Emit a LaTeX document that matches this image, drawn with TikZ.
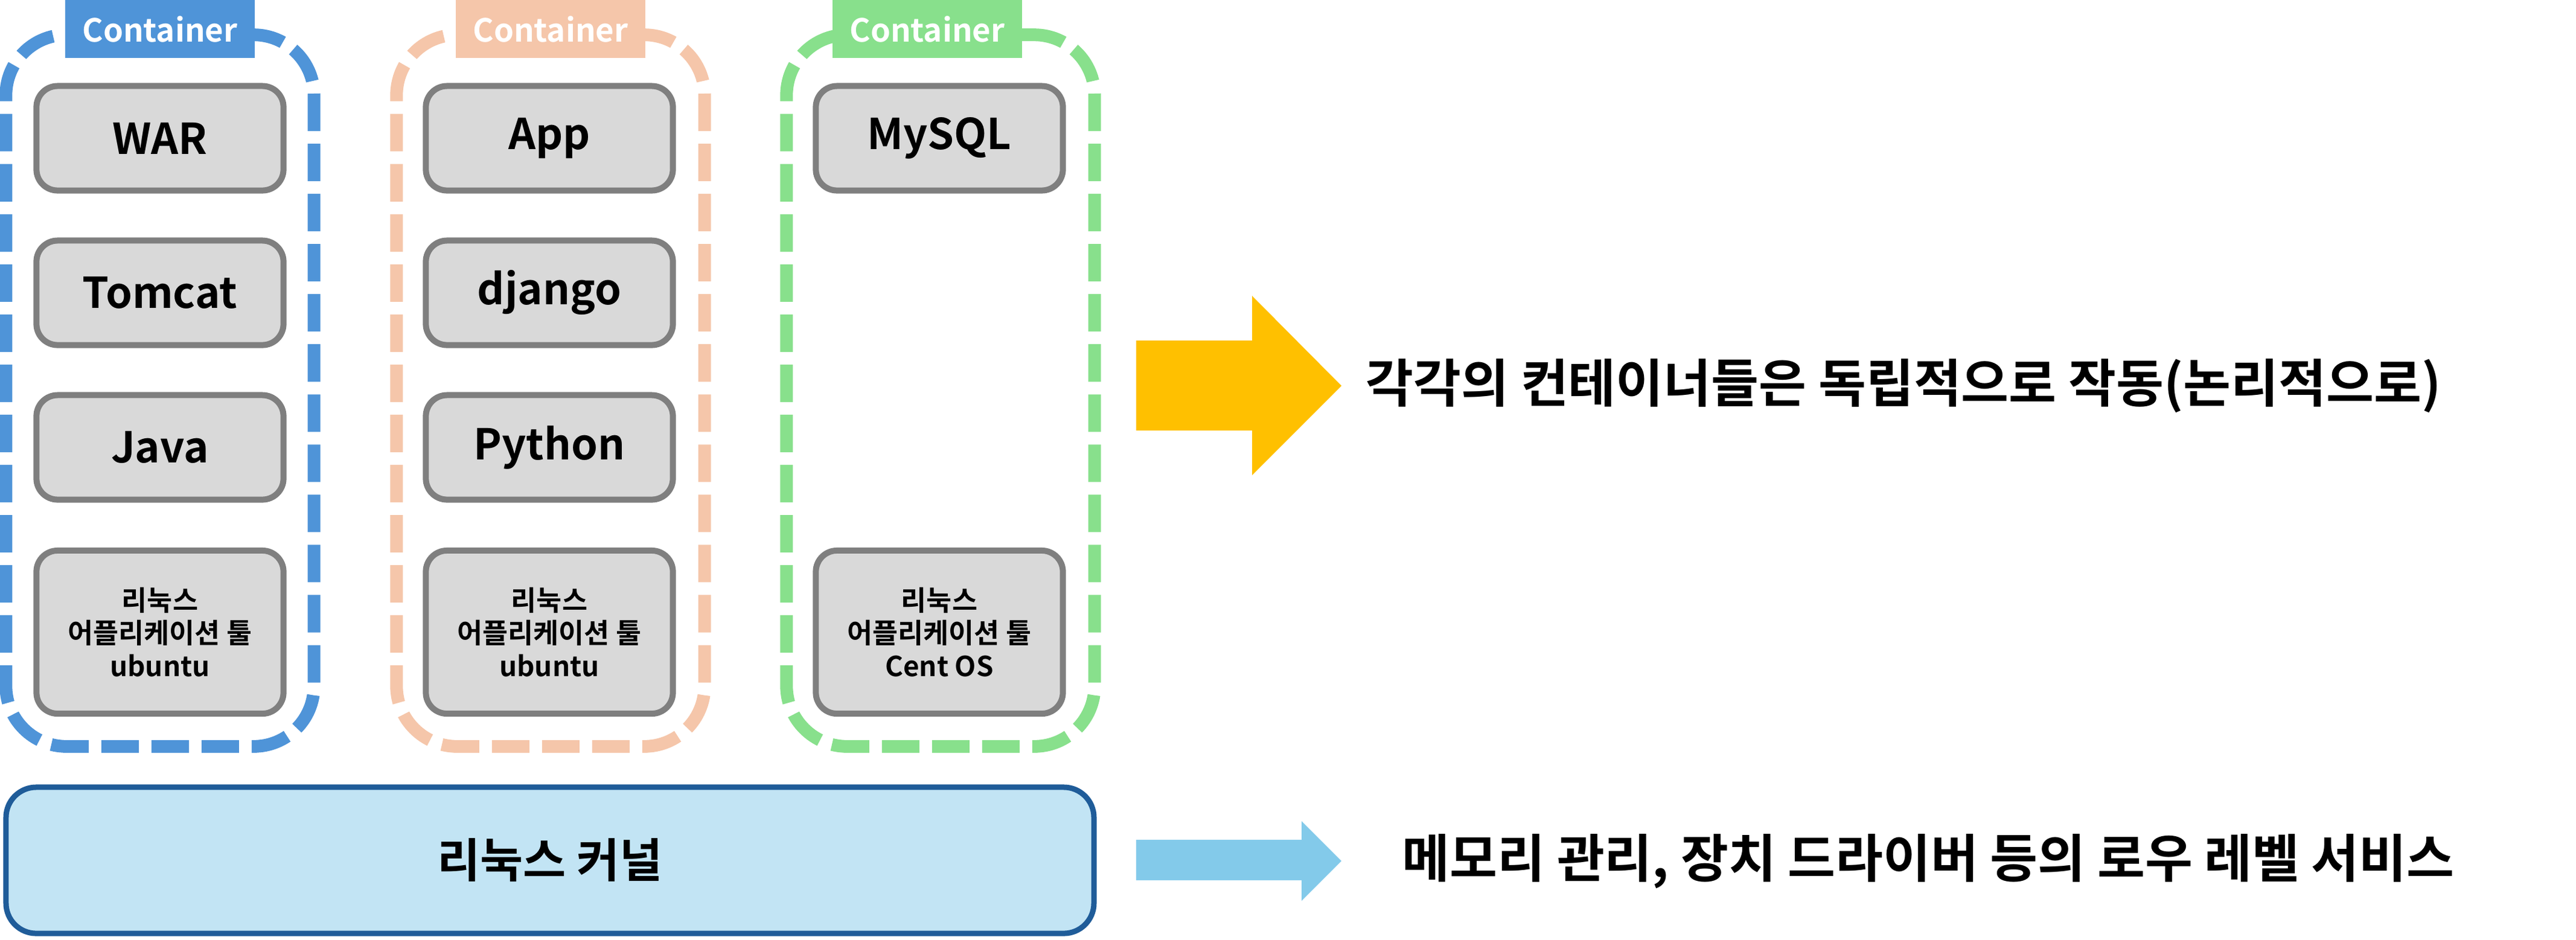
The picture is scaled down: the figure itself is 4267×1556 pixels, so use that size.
\documentclass[tikz,border=0pt]{standalone}
\usepackage{fontspec}
\setmainfont{Noto Sans CJK KR}[BoldFont={Noto Sans CJK KR Bold}]
\usepackage{tikz}
\definecolor{cont_blue}{HTML}{4F94D8}
\definecolor{cont_peach}{HTML}{F5C6AA}
\definecolor{cont_green}{HTML}{88E08C}
\definecolor{layer_gray}{HTML}{7F7F7F}
\definecolor{layer_fill}{HTML}{D9D9D9}
\definecolor{kernel_fill}{HTML}{C2E4F4}
\definecolor{kernel_line}{HTML}{1F5C99}
\definecolor{arrow_yellow}{HTML}{FFC000}
\definecolor{arrow_sky}{HTML}{83CAEA}

\begin{document}
\begin{tikzpicture}[x=0.01cm,y=-0.01cm,
    layer/.style={draw=layer_gray,fill=layer_fill,line width=0.1cm,rounded corners=0.35cm,
      minimum width=4.09cm,minimum height=1.73cm,font=\bfseries\fontsize{20}{24}\selectfont},
    oslayer/.style={layer,minimum height=2.7cm,align=center,font=\bfseries\fontsize{13}{15.6}\selectfont},
    container/.style={line width=0.21cm,dash pattern=on 0.62cm off 0.21cm,rounded corners=1cm,
      minimum width=5.1cm,minimum height=11.78cm},
    tag/.style={text=white,minimum width=3.14cm,minimum height=0.96cm,inner sep=0,
      font=\bfseries\fontsize{15}{17}\selectfont},
    note/.style={anchor=west,inner sep=0,font=\bfseries\fontsize{24.4}{28}\selectfont}]
    \useasboundingbox (0,0) rectangle (4267,1556);
    % containers
    \node[container,draw=cont_blue] (cwar) at (265,647) {};
    \node[container,draw=cont_peach] (capp) at (912,647) {};
    \node[container,draw=cont_green] (cdb) at (1558,647) {};
    \node[tag,fill=cont_blue] (tagwar) at (265,48) {Container};
    \node[tag,fill=cont_peach] (tagapp) at (912,48) {Container};
    \node[tag,fill=cont_green] (tagdb) at (1536,48) {Container};
    % java stack
    \node[layer] (war) at (265,229) {WAR};
    \node[layer] (tomcat) at (265,485) {Tomcat};
    \node[layer] (java) at (265,741) {Java};
    \node[oslayer] (oswar) at (265,1047) {리눅스\\어플리케이션 툴\\ubuntu};
    % python stack
    \node[layer] (app) at (910,229) {App};
    \node[layer] (django) at (910,485) {django};
    \node[layer] (python) at (910,741) {Python};
    \node[oslayer] (osapp) at (910,1047) {리눅스\\어플리케이션 툴\\ubuntu};
    % db stack
    \node[layer] (mysql) at (1556,229) {MySQL};
    \node[oslayer] (osdb) at (1556,1047) {리눅스\\어플리케이션 툴\\Cent OS};
    % kernel
    \node[draw=kernel_line,fill=kernel_fill,line width=0.09cm,rounded corners=0.5cm,
      minimum width=18.01cm,minimum height=2.42cm,font=\bfseries\fontsize{22}{26}\selectfont] (kernel) at (911,1425) {리눅스 커널};
    % notes
    \node[note] (txtcont) at (2262,639) {각각의 컨테이너들은 독립적으로 작동(논리적으로)};
    \node[note] (txtkernel) at (2322,1427) {메모리 관리, 장치 드라이버 등의 로우 레벨 서비스};
    \fill[arrow_yellow] (1882,564) -- (2074,564) -- (2074,490) -- (2222,639) -- (2074,787) -- (2074,713) -- (1882,713) -- cycle;
    \fill[arrow_sky] (1882,1391) -- (2156,1391) -- (2156,1360) -- (2222,1426) -- (2156,1492) -- (2156,1458) -- (1882,1458) -- cycle;
  \end{tikzpicture}
\end{document}
